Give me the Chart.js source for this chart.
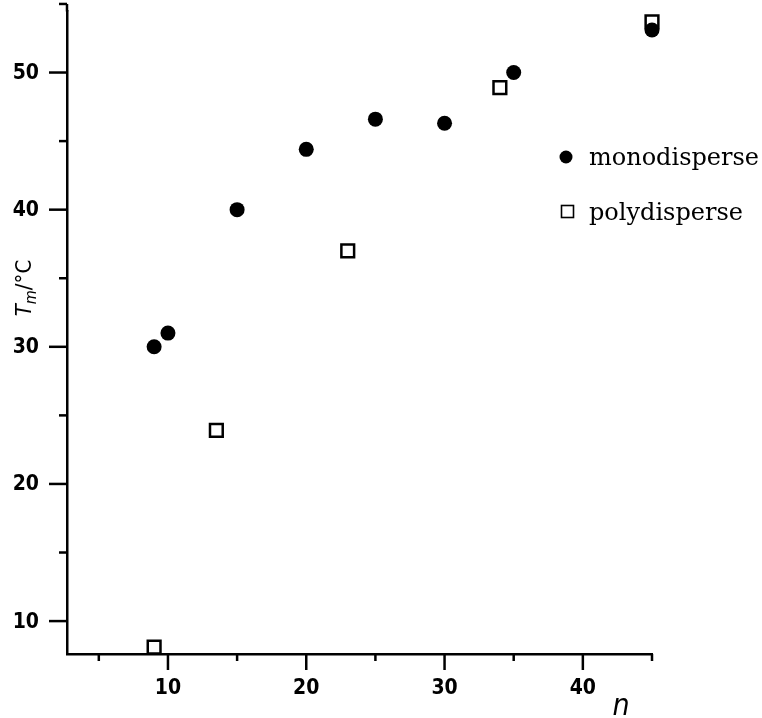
<!DOCTYPE html>
<html>
<head>
<meta charset="utf-8">
<title>Tm vs n</title>
<script src="https://cdn.jsdelivr.net/npm/chart.js@4.4.1/dist/chart.umd.min.js"></script>
<style>
    html, body { margin: 0; padding: 0; background: #fff; }
    #wrap { width: 762px; height: 718px; }
</style>
</head>
<body>
<div id="wrap"><canvas id="tmChart" width="762" height="718"></canvas></div>
<script>
// --- DATOS ---
const monoN  = [9, 10, 15, 20, 25, 30, 35, 45];
const monoTm = [30, 31, 40, 44.4, 46.6, 46.3, 50, 53.1];
const polyN  = [9, 13.5, 23, 34, 45];
const polyTm = [8.1, 23.9, 37, 48.9, 53.7];

const xMajorTicks = [10, 20, 30, 40];
const xMinorTicks = [5, 15, 25, 35, 45];
const yMajorTicks = [10, 20, 30, 40, 50];
const yMinorTicks = [15, 25, 35, 45, 55];

const legendLabels = ['monodisperse', 'polydisperse'];

const tickFont = 'bold 21px "Liberation Sans Narrow", "DejaVu Sans Condensed", sans-serif';

function toPoints(xs, ys) {
    return xs.map((x, i) => ({ x: x, y: ys[i] }));
}

// ticks, etiquetas, títulos y leyenda dibujados sobre las escalas del gráfico
const axisDecor = {
    id: 'axisDecor',
    afterDraw(chart) {
        const ctx = chart.ctx;
        const xs = chart.scales.x;
        const ys = chart.scales.y;
        const area = chart.chartArea;

        ctx.save();
        ctx.strokeStyle = '#000';
        ctx.fillStyle = '#000';
        ctx.lineWidth = 2.5;

        // el eje y sube hasta el último tick (55)
        const yTop = ys.getPixelForValue(yMinorTicks[yMinorTicks.length - 1]);
        ctx.beginPath(); ctx.moveTo(area.left, area.top); ctx.lineTo(area.left, yTop); ctx.stroke();

        // ticks eje x (hacia abajo)
        xMajorTicks.forEach(v => {
            const px = xs.getPixelForValue(v);
            ctx.beginPath(); ctx.moveTo(px, area.bottom); ctx.lineTo(px, area.bottom + 16); ctx.stroke();
        });
        xMinorTicks.forEach(v => {
            const px = xs.getPixelForValue(v);
            ctx.beginPath(); ctx.moveTo(px, area.bottom); ctx.lineTo(px, area.bottom + 7); ctx.stroke();
        });

        // ticks eje y (hacia la izquierda)
        yMajorTicks.forEach(v => {
            const py = ys.getPixelForValue(v);
            ctx.beginPath(); ctx.moveTo(area.left, py); ctx.lineTo(area.left - 18, py); ctx.stroke();
        });
        yMinorTicks.forEach(v => {
            const py = ys.getPixelForValue(v);
            ctx.beginPath(); ctx.moveTo(area.left, py); ctx.lineTo(area.left - 8, py); ctx.stroke();
        });

        // etiquetas
        ctx.font = tickFont;
        ctx.textAlign = 'center';
        ctx.textBaseline = 'top';
        xMajorTicks.forEach(v => {
            ctx.fillText(String(v), xs.getPixelForValue(v), area.bottom + 24);
        });
        ctx.textAlign = 'right';
        ctx.textBaseline = 'middle';
        yMajorTicks.forEach(v => {
            ctx.fillText(String(v), area.left - 28, ys.getPixelForValue(v) + 1);
        });

        // título eje x
        ctx.font = 'italic 30px "Liberation Sans Narrow", "DejaVu Sans Condensed", sans-serif';
        ctx.textAlign = 'center';
        ctx.textBaseline = 'alphabetic';
        ctx.fillText('n', 621, 715);

        // título eje y: T_m/°C girado
        ctx.save();
        ctx.translate(31, 288);
        ctx.rotate(-Math.PI / 2);
        ctx.textAlign = 'left';
        ctx.textBaseline = 'alphabetic';
        const big = 'italic 22px "Liberation Sans Narrow", "DejaVu Sans Condensed", sans-serif';
        const sub = 'italic 16px "Liberation Sans Narrow", "DejaVu Sans Condensed", sans-serif';
        const norm = '22px "Liberation Sans Narrow", "DejaVu Sans Condensed", sans-serif';
        ctx.font = big;
        const wT = ctx.measureText('T').width;
        ctx.font = sub;
        const wM = ctx.measureText('m').width;
        ctx.font = norm;
        const wRest = ctx.measureText('/°C').width;
        let x0 = -(wT + wM + wRest) / 2;
        ctx.font = big;  ctx.fillText('T', x0, 0); x0 += wT;
        ctx.font = sub;  ctx.fillText('m', x0, 5); x0 += wM;
        ctx.font = norm; ctx.fillText('/°C', x0, 0);
        ctx.restore();

        // leyenda
        ctx.font = '24px "DejaVu Serif", "Liberation Serif", serif';
        ctx.textAlign = 'left';
        ctx.textBaseline = 'alphabetic';
        ctx.fillText(legendLabels[0], 589, 165);
        ctx.fillText(legendLabels[1], 589, 220);
        ctx.beginPath(); ctx.arc(566, 157, 6.5, 0, Math.PI * 2); ctx.fill();
        ctx.lineWidth = 1.6;
        ctx.strokeRect(561.5, 205.5, 12, 12);

        ctx.restore();
    }
};

new Chart(document.getElementById('tmChart'), {
    type: 'scatter',
    data: {
        datasets: [{
            label: legendLabels[0],
            data: toPoints(monoN, monoTm),
            pointStyle: 'circle',
            pointRadius: 7.5,
            pointHoverRadius: 7.5,
            backgroundColor: '#000',
            borderColor: '#000',
            borderWidth: 0,
            clip: false
        }, {
            label: legendLabels[1],
            data: toPoints(polyN, polyTm),
            pointStyle: 'rect',
            pointRadius: 9,
            pointHoverRadius: 9,
            backgroundColor: '#fff',
            borderColor: '#000',
            borderWidth: 2.5,
            clip: false
        }]
    },
    options: {
        responsive: false,
        animation: false,
        layout: { padding: { left: 67, top: 5, right: 110, bottom: 64 } },
        plugins: {
            legend: { display: false },
            tooltip: { enabled: false }
        },
        scales: {
            x: {
                type: 'linear',
                min: 2.7,
                max: 45,
                grid: { display: false, drawTicks: false },
                ticks: { display: false },
                border: { display: true, color: '#000', width: 2.5 }
            },
            y: {
                type: 'linear',
                min: 7.6,
                max: 54.45,
                grid: { display: false, drawTicks: false },
                ticks: { display: false },
                border: { display: true, color: '#000', width: 2.5 }
            }
        }
    },
    plugins: [axisDecor]
});
</script>
</body>
</html>
